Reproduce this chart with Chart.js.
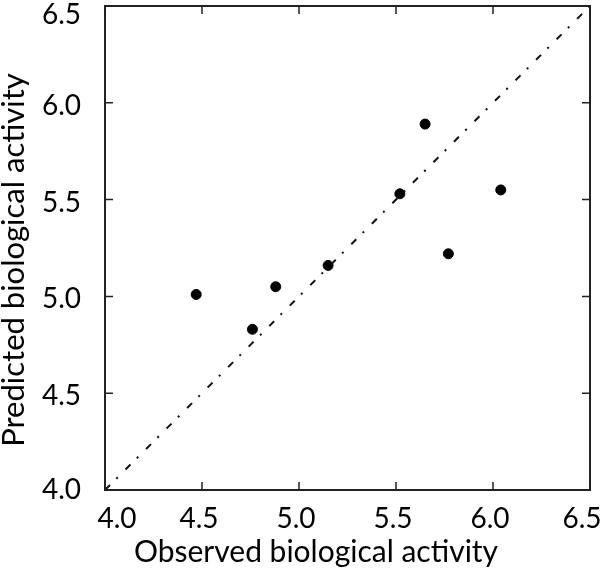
<!DOCTYPE html>
<html>
<head>
<meta charset="utf-8">
<script src="https://cdn.jsdelivr.net/npm/chart.js@4"></script>
<style>
  html, body { margin: 0; padding: 0; background: #fff; }
  #Chart { display: block; }
</style>
</head>
<body>
<canvas id="Chart" width="600" height="568"></canvas>
<script>
// observed vs predicted activity
const observed  = [4.47, 4.76, 4.88, 5.15, 5.52, 5.65, 5.77, 6.04];
const predicted = [5.01, 4.83, 5.05, 5.16, 5.53, 5.89, 5.22, 5.55];
const tickValues = [4.0, 4.5, 5.0, 5.5, 6.0, 6.5];
const identityLine = [4.0, 6.5];
const xTitle = "Observed biological activity";
const yTitle = "Predicted biological activity";

const FONT = "Lato, 'Open Sans', sans-serif";

//frame, inward ticks, tick labels and axis titles
const framePlugin = {
    id: 'frame',
    afterDraw(chart) {
        const ctx = chart.ctx;
        const a = chart.chartArea;
        const xs = chart.scales.x, ys = chart.scales.y;
        ctx.save();
        ctx.strokeStyle = '#222';
        ctx.lineWidth = 2;
        ctx.strokeRect(a.left, a.top, a.right - a.left, a.bottom - a.top);

        ctx.lineWidth = 1.5;
        ctx.beginPath();
        tickValues.forEach(v => {
            const px = xs.getPixelForValue(v);
            const py = ys.getPixelForValue(v);
            ctx.moveTo(px, a.bottom); ctx.lineTo(px, a.bottom - 8);
            ctx.moveTo(px, a.top);    ctx.lineTo(px, a.top + 8);
            ctx.moveTo(a.left, py);   ctx.lineTo(a.left + 8, py);
            ctx.moveTo(a.right, py);  ctx.lineTo(a.right - 8, py);
        });
        ctx.stroke();

        ctx.fillStyle = '#000';
        ctx.font = '28px ' + FONT;
        ctx.textAlign = 'center';
        ctx.textBaseline = 'alphabetic';
        tickValues.forEach(v => {
            const px = xs.getPixelForValue(v);
            const cx = Math.min(Math.max(px - 3, a.left + 12), a.right - 8);
            ctx.fillText(v.toFixed(1), cx, a.bottom + 38);
        });
        ctx.textAlign = 'right';
        ctx.textBaseline = 'middle';
        tickValues.forEach(v => {
            const py = ys.getPixelForValue(v);
            const cy = Math.min(Math.max(py + 3, a.top + 9), a.bottom);
            ctx.fillText(v.toFixed(1), a.left - 24, cy);
        });

        ctx.font = '30px ' + FONT;
        ctx.textAlign = 'center';
        ctx.textBaseline = 'alphabetic';
        ctx.fillText(xTitle, 316, chart.height - 6);
        ctx.font = '31px ' + FONT;
        ctx.translate(24, 260);
        ctx.rotate(-Math.PI / 2);
        ctx.fillText(yTitle, 0, 0);
        ctx.restore();
    }
};

const ctx = document.getElementById("Chart").getContext('2d');
const myChart = new Chart(ctx, {
    type: 'scatter',
    data: {
        datasets: [{
            label: 'identity',
            data: identityLine.map(v => ({x: v, y: v})),
            showLine: true,
            borderColor: '#111',
            borderWidth: 2,
            borderDash: [7, 9, 2, 11],
            pointRadius: 0,
            fill: false
        }, {
            label: 'compounds',
            data: observed.map((x, i) => ({x: x, y: predicted[i]})),
            backgroundColor: '#000',
            borderColor: '#000',
            pointRadius: 5,
            pointHoverRadius: 5
        }]
    },
    options: {
        responsive: false,
        animation: false,
        layout: { padding: { left: 105, right: 10, top: 5, bottom: 78 } },
        plugins: { legend: { display: false }, tooltip: { enabled: false } },
        scales: {
            x: { type: 'linear', min: 4.0, max: 6.5, display: false },
            y: { type: 'linear', min: 4.0, max: 6.5, display: false }
        }
    },
    plugins: [framePlugin]
});
</script>
</body>
</html>
